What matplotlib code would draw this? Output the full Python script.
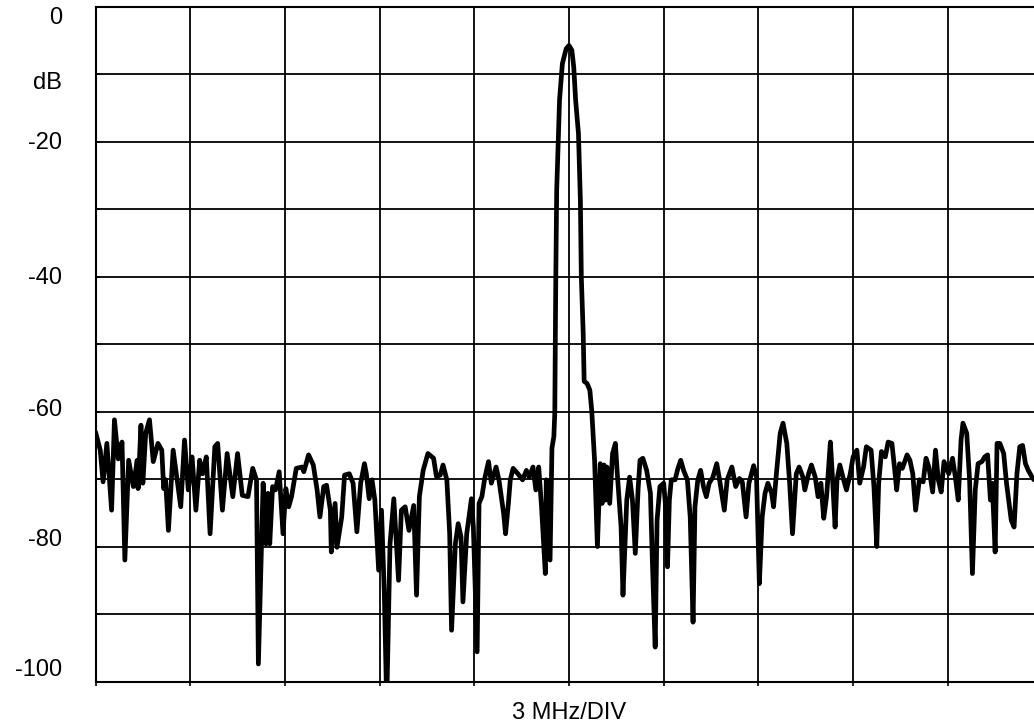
import matplotlib
matplotlib.use("Agg")
import matplotlib.pyplot as plt
import numpy as np

plt.rcParams['font.family'] = ['Liberation Sans', 'DejaVu Sans']

# Frequency axis in divisions (3 MHz/DIV), level in dB
freq_left = [0.00,0.05,0.08,0.12,0.17,0.20,0.24,0.28,0.31,0.35,0.40,0.44,0.45,0.48,0.50,0.53,0.57,0.61,0.66,0.70,
             0.72,0.74,0.77,0.82,0.90,0.94,0.98,1.02,1.06,1.10,1.13,1.17,1.21,1.26,1.29,1.34,1.39,1.45,1.50,1.55,
             1.61,1.66,1.70,1.72,
             1.77,1.80,1.82,1.84,1.87,1.90,1.94,1.98,2.01,2.04,2.07,2.12,2.18,2.20,2.25,2.30,2.34,2.37,2.41,2.44,
             2.48,2.49,2.53,2.55,2.60,2.63,2.68,2.72,2.76,2.80,2.84,2.86,2.89,2.92,2.95,2.99,3.02,3.05,3.07,3.08,
             3.11,3.15,3.20,3.23,3.27,3.31,3.36,3.39,3.42,
             3.46,3.48,3.51,3.57,3.60,3.64,3.67,3.71,3.74,3.76,3.80,3.83,3.86,3.88,3.92,3.97,3.99,4.03,4.05,4.08,
             4.11,4.15,4.18,4.23,4.26,4.31,4.33,4.36,4.38,4.41,4.46,4.51,4.55,4.58,4.62,4.65,4.68,4.71,4.75,4.76,
             4.78,4.80,4.82,4.84,4.85]
level_left = [-63.0,-65.7,-70.4,-64.7,-74.6,-61.2,-67.0,-64.5,-82.0,-67.2,-71.1,-67.2,-71.4,-62.0,-70.6,-63.2,-61.2,-67.4,-64.7,-65.7,
              -71.4,-70.1,-77.6,-65.7,-74.1,-64.2,-71.6,-66.7,-74.6,-67.2,-69.2,-66.7,-78.1,-65.2,-64.7,-74.6,-66.2,-72.6,-66.2,-72.4,
              -72.6,-68.4,-70.1,-97.4,
              -70.6,-79.6,-72.1,-79.6,-71.1,-71.6,-68.9,-78.1,-71.4,-74.1,-72.6,-68.4,-68.2,-68.9,-66.4,-67.9,-71.6,-75.6,-71.1,-70.9,
              -74.6,-80.8,-73.6,-80.1,-75.6,-69.4,-69.2,-70.6,-77.8,-70.6,-67.7,-69.2,-72.9,-70.1,-73.1,-83.5,-74.6,-87.0,-100.0,-100.0,
              -79.6,-72.9,-85.0,-74.6,-74.1,-77.6,-73.9,-87.2,-72.6,
              -68.7,-67.7,-66.2,-66.9,-69.6,-69.4,-67.9,-70.1,-78.1,-92.4,-79.6,-76.6,-78.6,-88.2,-78.1,-72.9,-77.1,-95.6,-73.6,-72.6,
              -69.9,-67.4,-70.6,-68.2,-70.1,-75.1,-78.1,-73.6,-70.1,-68.4,-69.2,-70.1,-68.7,-69.7,-68.2,-71.6,-68.2,-74.1,-84.0,-70.1,
              -76.0,-82.0,-65.4,-63.7,-60.2]

freq_peak = [4.86,4.87,4.90,4.93,4.97,5.00,5.03,5.05,5.07,5.10,5.12,5.13,5.15,5.16,5.19,5.22,5.24,5.27,5.30]
level_peak = [-41.0,-27.2,-13.8,-8.4,-6.2,-5.7,-6.4,-8.9,-13.8,-18.8,-28.6,-40.0,-48.4,-55.5,-55.8,-56.8,-59.8,-67.2,-80.0]

freq_right = [5.33,5.35,5.37,5.39,5.40,5.43,5.46,5.49,5.51,5.55,5.57,5.61,5.64,5.67,5.70,5.73,5.75,5.78,5.82,5.86,
              5.88,5.91,5.93,5.96,6.00,6.02,6.04,6.06,6.08,6.12,6.15,6.18,6.21,6.25,6.28,6.31,6.33,6.36,6.39,6.42,
              6.45,6.48,6.52,6.56,6.59,6.64,6.67,6.72,6.76,6.80,6.83,6.87,6.90,6.95,6.98,7.01,7.04,7.07,7.10,
              7.14,7.16,7.19,7.23,7.26,7.30,7.33,7.36,7.40,7.43,7.47,7.49,7.53,7.56,7.60,7.63,7.66,7.69,7.72,7.76,
              7.78,7.81,7.83,7.86,7.90,7.93,7.97,8.00,8.04,8.07,8.11,8.14,8.19,8.22,8.25,8.27,8.30,8.34,8.37,8.41,
              8.44,8.46,8.49,
              8.52,8.57,8.60,8.63,8.66,8.70,8.74,8.77,8.80,8.84,8.87,8.90,8.93,8.96,9.01,9.05,9.08,9.11,9.14,9.16,
              9.20,9.23,9.26,9.29,9.32,9.36,9.39,9.42,9.45,9.47,9.50,9.52,9.55,9.59,9.62,9.67,9.70,9.73,9.76,9.79,
              9.82,9.85,9.89,9.91]
level_right = [-67.7,-73.6,-67.9,-73.1,-68.2,-73.6,-66.2,-64.7,-69.2,-77.1,-87.2,-73.1,-69.7,-73.1,-81.0,-71.4,-67.2,-66.9,-68.7,-72.1,
               -82.0,-94.9,-76.1,-71.1,-70.6,-74.1,-83.0,-73.1,-70.1,-70.1,-68.4,-67.2,-68.7,-70.1,-75.6,-91.2,-74.1,-70.1,-68.7,-71.1,
               -72.6,-70.6,-69.7,-67.7,-70.1,-74.6,-70.1,-68.2,-71.1,-69.9,-70.4,-75.6,-70.6,-68.0,-69.7,-85.5,-75.6,-72.1,-70.6,
               -72.1,-74.1,-69.2,-63.2,-61.7,-64.7,-70.6,-78.1,-69.2,-68.2,-69.7,-71.6,-69.2,-67.9,-69.7,-72.6,-70.6,-75.8,-72.6,-64.5,
               -69.2,-77.1,-70.1,-67.9,-70.1,-71.6,-69.2,-66.7,-65.7,-70.6,-68.2,-65.2,-65.7,-71.1,-80.0,-70.6,-65.9,-66.7,-64.5,-64.7,
               -68.7,-71.6,-67.7,
               -68.4,-66.4,-67.2,-69.2,-74.6,-70.1,-70.4,-66.9,-68.2,-71.9,-65.7,-70.1,-71.9,-67.4,-69.2,-66.9,-69.7,-73.1,-64.2,-61.7,
               -63.2,-70.1,-84.0,-71.6,-67.7,-67.4,-66.7,-66.4,-73.1,-70.6,-80.8,-64.7,-64.7,-66.2,-70.6,-76.1,-77.1,-69.2,-65.2,-65.0,
               -67.7,-68.7,-69.7,-70.1]

ytick_labels = ["0", "dB", "-20", "-40", "-60", "-80", "-100"]
ytick_text_pos = [-1.6, -11.3, -20.2, -40.2, -59.7, -79.0, -98.3]
x_label = "3 MHz/DIV"

freq = np.array(freq_left + freq_peak + freq_right)
level = np.array(level_left + level_peak + level_right)

W, H = 1034, 725
fig = plt.figure(figsize=(W / 100, H / 100), dpi=100)
left_px, right_px, top_px, bottom_px = 95.5, 1042.5, 7.0, 681.5
ax = fig.add_axes([left_px / W, 1 - bottom_px / H, (right_px - left_px) / W, (bottom_px - top_px) / H])

ax.set_xlim(0, 10)
ax.set_ylim(-100, 0)
ax.set_xticks(np.arange(0, 11, 1))
ax.set_yticks(np.arange(-100, 1, 10))
ax.set_xticklabels([])
ax.set_yticklabels([])
ax.tick_params(axis='x', length=3, width=1.2, direction='out', color='black')
ax.tick_params(axis='y', length=3, width=1.2, direction='in', color='black')
ax.grid(True, color='black', linewidth=1.3)
ax.set_axisbelow(True)
for sp in ax.spines.values():
    sp.set_linewidth(1.5)
    sp.set_color('black')

ax.plot(freq, level, color='black', linewidth=3.4, solid_joinstyle='round', solid_capstyle='round', zorder=3)

for lab, ypos in zip(ytick_labels, ytick_text_pos):
    ax.text(-0.0354, ypos, lab, transform=ax.get_yaxis_transform(), ha='right', va='center',
            fontsize=17, color='black')

ax.text(0.5, -0.031, x_label, transform=ax.transAxes, ha='center', va='top', fontsize=17, color='black')

fig.savefig("out.png", dpi=100)
